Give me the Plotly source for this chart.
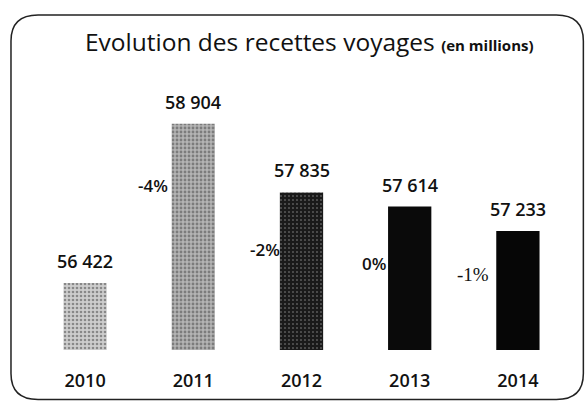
import plotly.graph_objects as go

years = ["2010", "2011", "2012", "2013", "2014"]
values = [56422, 58904, 57835, 57614, 57233]
value_labels = ["56 422", "58 904", "57 835", "57 614", "57 233"]
pct_labels = ["", "-4%", "-2%", "0%", "-1%"]
pct_y = [None, 57950, 56940, 56735, 56550]
pct_dx = [0, 0.22, 0.18, 0.2, 0.25]
bar_colors = ["#cdcdcd", "#b4b4b4", "#1a1a1a", "#0a0a0a", "#060606"]
pattern_fg = ["#6a6a6a", "#555555", "#777777", "#3a3a3a", "#202020"]
pattern_shapes = [".", ".", ".", "", ""]
pattern_solid = [0.35, 0.4, 0.12, 0.1, 0.1]

fig = go.Figure()
fig.add_trace(go.Bar(
    x=years, y=values, width=0.4,
    marker=dict(color=bar_colors, line=dict(width=0),
                pattern=dict(shape=pattern_shapes, fgcolor=pattern_fg, size=4,
                             solidity=pattern_solid)),
    hoverinfo="skip",
))

for i, (lab, v) in enumerate(zip(value_labels, values)):
    fig.add_annotation(x=i, y=v, xref="x", yref="y", text=lab, showarrow=False,
                       yanchor="middle", yshift=22,
                       font=dict(family="Open Sans", size=18, color="#111", weight=600))

for i, (lab, yy, dx) in enumerate(zip(pct_labels, pct_y, pct_dx)):
    if not lab:
        continue
    serif = lab == "-1%"
    fig.add_annotation(x=i - dx, y=yy, xref="x", yref="y", text=lab, showarrow=False,
                       xanchor="right", yanchor="middle",
                       font=dict(family="Liberation Serif" if serif else "Open Sans",
                                 size=19 if serif else 17, color="#111",
                                 weight=400 if serif else 600))

fig.add_annotation(xref="paper", yref="paper", x=0.096, y=1.185, xanchor="left", yanchor="middle",
                   text="Evolution des recettes voyages <span style='font-size:15px;font-weight:700'>(en millions)</span>",
                   showarrow=False, font=dict(family="Open Sans", size=24.5, color="#111"))

# rounded border
x0, x1, y0, y1 = -0.037, 1.021, -0.19, 1.288
rx, ry = 0.05, 0.1
path = (f"M {x0+rx},{y1} L {x1-rx},{y1} Q {x1},{y1} {x1},{y1-ry} L {x1},{y0+ry} "
        f"Q {x1},{y0} {x1-rx},{y0} L {x0+rx},{y0} Q {x0},{y0} {x0},{y0+ry} "
        f"L {x0},{y1-ry} Q {x0},{y1} {x0+rx},{y1} Z")
fig.add_shape(type="path", path=path, xref="paper", yref="paper",
              line=dict(color="#222", width=1.5))

fig.update_layout(
    width=586, height=406,
    margin=dict(l=31, r=14, t=90, b=56, autoexpand=False),
    paper_bgcolor="white", plot_bgcolor="white",
    showlegend=False,
    xaxis=dict(showgrid=False, showline=False, zeroline=False, ticks="", automargin=False,
               tickfont=dict(family="Open Sans", size=18, color="#111", weight=600),
               ticklabelstandoff=18),
    yaxis=dict(range=[55380, 59430], visible=False, automargin=False),
)

fig.write_html("out.html", config={"displayModeBar": False},
               post_script="document.body.style.margin='0';document.body.style.overflow='hidden';")
